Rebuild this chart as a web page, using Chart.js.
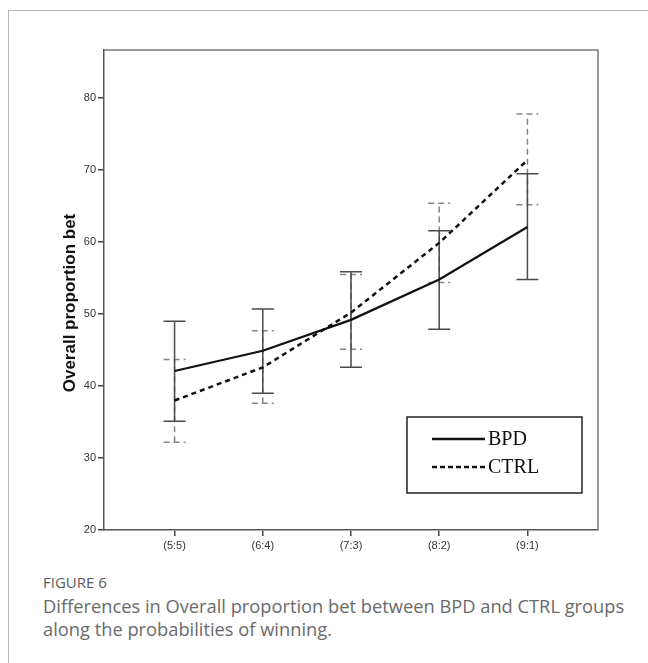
<!DOCTYPE html>
<html>
<head>
<meta charset="utf-8">
<script src="https://cdn.jsdelivr.net/npm/chart.js@4.4.0/dist/chart.umd.min.js"></script>
<style>
  body { margin: 0; background: #fff; width: 648px; height: 663px; overflow: hidden; position: relative; }
  #frame { position: absolute; left: 8px; top: 10px; width: 700px; height: 700px;
           border-left: 1.5px solid #b5b5b5; border-top: 1.5px solid #b5b5b5; }
  #wrap { position: absolute; left: 0; top: 0; width: 648px; height: 560px; }
  .fig { position: absolute; left: 43px; font-family: "Open Sans", sans-serif; color: #5a5a5a; }
  #figno { top: 572px; font-size: 15px; font-weight: 500; }
  #figtxt { top: 594px; font-size: 18.3px; line-height: 23px; color: #6a6a6a; width: 585px; }
</style>
</head>
<body>
<div id="frame"></div>
<div id="wrap"><canvas id="chart"></canvas></div>
<div class="fig" id="figno">FIGURE 6</div>
<div class="fig" id="figtxt">Differences in Overall proportion bet between BPD and CTRL groups along the probabilities of winning.</div>
<script>
// categories and values
const categories = ["(5:5)", "(6:4)", "(7:3)", "(8:2)", "(9:1)"];
const bpdMean = [42.1, 44.9, 49.2, 54.8, 62.1];
const bpdLow = [35.1, 39.0, 42.6, 47.9, 54.8];
const bpdHigh = [49.0, 50.7, 55.9, 61.6, 69.5];
const ctrlMean = [38.0, 42.6, 50.2, 59.9, 71.4];
const ctrlLow = [32.2, 37.6, 45.1, 54.4, 65.2];
const ctrlHigh = [43.7, 47.7, 55.5, 65.4, 77.8];
const yTicks = [20, 30, 40, 50, 60, 70, 80];

const toPoints = (arr) => arr.map((v, i) => ({ x: i, y: v }));

// error bars, drawn under the lines
const errorBars = {
    id: "errorBars",
    beforeDatasetsDraw(chart) {
        const ctx = chart.ctx;
        const xs = chart.scales.x;
        const ys = chart.scales.y;
        const sets = [
            { lo: ctrlLow, hi: ctrlHigh, color: "#858585", dash: [6, 4] },
            { lo: bpdLow, hi: bpdHigh, color: "#4a4a4a", dash: [] }
        ];
        sets.forEach((s) => {
            ctx.save();
            ctx.strokeStyle = s.color;
            ctx.lineWidth = 1.5;
            ctx.setLineDash(s.dash);
            s.lo.forEach((lo, i) => {
                const x = xs.getPixelForValue(i);
                const y1 = ys.getPixelForValue(lo);
                const y2 = ys.getPixelForValue(s.hi[i]);
                ctx.beginPath();
                ctx.moveTo(x, y1);
                ctx.lineTo(x, y2);
                ctx.moveTo(x - 11, y1);
                ctx.lineTo(x + 11, y1);
                ctx.moveTo(x - 11, y2);
                ctx.lineTo(x + 11, y2);
                ctx.stroke();
            });
            ctx.restore();
        });
    },
    afterDraw(chart) {
        const ctx = chart.ctx;
        const a = chart.chartArea;
        ctx.save();
        // top and right edge of the plot box
        ctx.strokeStyle = "#7a7a7a";
        ctx.lineWidth = 1.5;
        ctx.beginPath();
        ctx.moveTo(a.left, a.top);
        ctx.lineTo(a.right, a.top);
        ctx.lineTo(a.right, a.bottom);
        ctx.stroke();

        // y axis title
        ctx.fillStyle = "#111";
        ctx.font = "bold 17px 'Liberation Sans', Arial, sans-serif";
        ctx.textAlign = "center";
        ctx.textBaseline = "middle";
        ctx.translate(70, 303);
        ctx.rotate(-Math.PI / 2);
        ctx.fillText("Overall proportion bet", 0, 0);
        ctx.restore();

        // legend box
        ctx.save();
        const lx = a.right - 191, ly = a.bottom - 113;
        ctx.strokeStyle = "#222";
        ctx.lineWidth = 1.5;
        ctx.strokeRect(lx, ly, 175, 76);
        ctx.lineWidth = 2.5;
        ctx.strokeStyle = "#111";
        ctx.beginPath();
        ctx.moveTo(lx + 25, ly + 22);
        ctx.lineTo(lx + 78, ly + 22);
        ctx.stroke();
        ctx.setLineDash([5, 3]);
        ctx.lineWidth = 2.5;
        ctx.beginPath();
        ctx.moveTo(lx + 25, ly + 50);
        ctx.lineTo(lx + 78, ly + 50);
        ctx.stroke();
        ctx.fillStyle = "#111";
        ctx.font = "20px 'Liberation Serif', 'Times New Roman', serif";
        ctx.textBaseline = "middle";
        ctx.fillText("BPD", lx + 81, ly + 23);
        ctx.fillText("CTRL", lx + 81, ly + 51);
        ctx.restore();
    }
};

const ctx = document.getElementById("chart").getContext("2d");
const chart = new Chart(ctx, {
    type: "line",
    data: {
        datasets: [
            {
                label: "BPD",
                data: toPoints(bpdMean),
                borderColor: "#111",
                borderWidth: 2.2,
                pointRadius: 0,
                tension: 0
            },
            {
                label: "CTRL",
                data: toPoints(ctrlMean),
                borderColor: "#111",
                borderWidth: 2.5,
                borderDash: [5, 4],
                pointRadius: 0,
                tension: 0
            }
        ]
    },
    options: {
        responsive: true,
        maintainAspectRatio: false,
        animation: false,
        layout: { padding: { top: 50, right: 50, left: 0, bottom: 0 } },
        plugins: {
            legend: { display: false },
            tooltip: { enabled: false }
        },
        scales: {
            x: {
                type: "linear",
                min: -0.8,
                max: 4.8,
                afterBuildTicks: (s) => { s.ticks = categories.map((c, i) => ({ value: i })); },
                afterFit: (s) => { s.height = 30; },
                ticks: {
                    callback: (v) => categories[v],
                    color: "#333",
                    font: { family: "'Liberation Sans', Arial, sans-serif", size: 11 },
                    padding: 3,
                    maxRotation: 0
                },
                grid: { drawOnChartArea: false, tickLength: 6, color: "#444", lineWidth: 1.5 },
                border: { color: "#555", width: 1.5 }
            },
            y: {
                min: 20,
                max: 86.7,
                afterBuildTicks: (s) => { s.ticks = yTicks.map((v) => ({ value: v })); },
                afterFit: (s) => { s.width = 104; },
                ticks: {
                    color: "#333",
                    font: { family: "'Liberation Sans', Arial, sans-serif", size: 11 },
                    padding: 2
                },
                grid: { drawOnChartArea: false, tickLength: 6, color: "#444", lineWidth: 1.5 },
                border: { color: "#555", width: 1.5 }
            }
        }
    },
    plugins: [errorBars]
});
</script>
</body>
</html>
